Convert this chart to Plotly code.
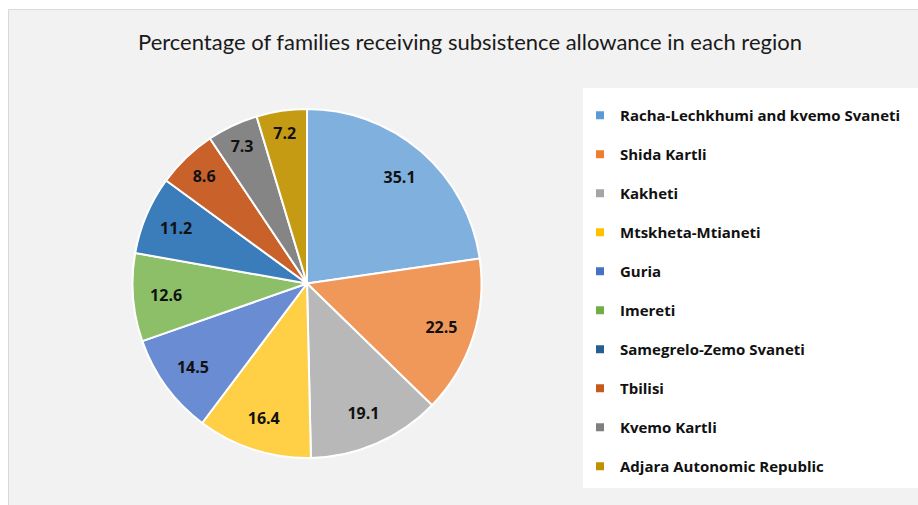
import plotly.graph_objects as go

regions = ["Racha-Lechkhumi and kvemo Svaneti", "Shida Kartli", "Kakheti", "Mtskheta-Mtianeti",
           "Guria", "Imereti", "Samegrelo-Zemo Svaneti", "Tbilisi", "Kvemo Kartli",
           "Adjara Autonomic Republic"]
values = [35.1, 22.5, 19.1, 16.4, 14.5, 12.6, 11.2, 8.6, 7.3, 7.2]
colors = ["#7FB0DE", "#F0975A", "#B8B8B8", "#FFCF45", "#6A8CD2", "#8CBF68",
          "#3A7DBA", "#C8612A", "#858585", "#C69B14"]
legend_colors = ["#5B9BD5", "#ED7D31", "#A5A5A5", "#FFC000", "#4472C4", "#70AD47",
                 "#255E91", "#C55A1F", "#7F7F7F", "#BF9000"]
title = "Percentage of families receiving subsistence allowance in each region"

W, H = 918, 505
dom = dict(x=[132 / W, 482 / W], y=[1 - 458 / H, 1 - 109 / H])
fig = go.Figure()

# coloured slices
fig.add_trace(go.Pie(
    labels=regions, values=values, sort=False, direction="clockwise", rotation=0,
    marker=dict(colors=colors, line=dict(color="white", width=2)),
    textinfo="none", domain=dom, showlegend=False, hoverinfo="label+value",
))
# data labels placed in the outer ring
fig.add_trace(go.Pie(
    labels=regions, values=values, sort=False, direction="clockwise", rotation=0, hole=0.62,
    marker=dict(colors=["rgba(0,0,0,0)"] * len(values), line=dict(width=0)),
    texttemplate="%{value}", textposition="inside", insidetextorientation="horizontal",
    textfont=dict(family="Open Sans", size=16, color="#111111", weight="bold"),
    domain=dom, showlegend=False, hoverinfo="skip",
))

for i, (name, c) in enumerate(zip(regions, legend_colors)):
    fig.add_trace(go.Scatter(
        x=[None], y=[None], mode="markers", name=name, legendgroup=f"g{i}",
        marker=dict(symbol="square", size=8, color=c), showlegend=True,
    ))

fig.update_layout(
    width=W, height=H,
    margin=dict(l=0, r=0, t=0, b=0, autoexpand=False),
    paper_bgcolor="white", plot_bgcolor="rgba(0,0,0,0)",
    xaxis=dict(visible=False), yaxis=dict(visible=False),
    title=dict(text=title, x=470 / W, xanchor="center", y=1 - 42 / H, yanchor="middle",
               font=dict(family="Lato", size=22, color="#1a1a1a")),
    legend=dict(x=580 / W, y=1 - 99 / H, xanchor="left", yanchor="top",
                bgcolor="rgba(0,0,0,0)", tracegroupgap=16.5,
                font=dict(family="Open Sans", size=15, color="#111111", weight="bold")),
    shapes=[
        dict(type="rect", xref="paper", yref="paper", x0=8.5 / W, x1=1.05, y0=-0.05, y1=1 - 9.5 / H,
             fillcolor="#F2F2F2", line=dict(color="#D9D9D9", width=1), layer="below"),
        dict(type="rect", xref="paper", yref="paper", x0=583 / W, x1=1.05, y0=1 - 488 / H, y1=1 - 88 / H,
             fillcolor="white", line=dict(width=0), layer="below"),
    ],
)

fig.write_html("out.html")
